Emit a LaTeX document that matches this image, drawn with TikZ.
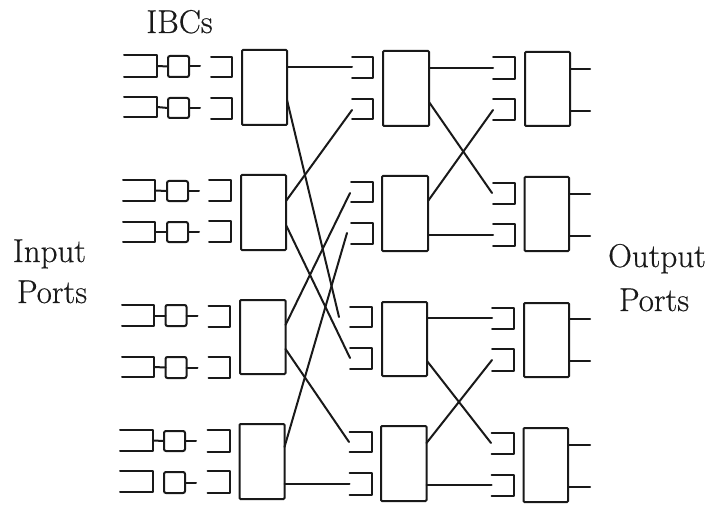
\documentclass[tikz,border=0pt]{standalone}
\usepackage{fontspec}
\setmainfont{Latin Modern Roman}[RawFeature={embolden=0.5}]
\tikzset{
  x=1pt,y=-1pt,
  wire/.style={line width=2pt,line cap=round,line join=round,black!90},
  conn/.style={wire},
  lbl/.style={font=\fontsize{33}{37}\selectfont,inner sep=0pt,text=black!90,anchor=base},
  swbox/.style={draw=black!90,line width=2pt,rounded corners=1pt,inner sep=0pt,outer sep=0pt},
  ibcbox/.style={swbox,rounded corners=2pt},
}
% box node: style, name, x1, x2, y1, y2
\newcommand{\boxnode}[6]{\node[#1,minimum width={#4-#3},minimum height={#6-#5}] (#2) at ({(#3+#4)/2},{(#5+#6)/2}) {};}
% bracket: name, x1, x2, y1, y2
\newcommand{\brk}[5]{\draw[wire] (#2,#4) -- (#3,#4) -- (#3,#5) -- (#2,#5);
  \coordinate (#1) at (#2,{(#4+#5)/2});
  \coordinate (#1r) at (#3,{(#4+#5)/2});}
\begin{document}
\begin{tikzpicture}
\useasboundingbox (0,0) rectangle (714,505);
% labels
\node[lbl] (ibc) at (179.5,33) {IBCs};
\node[lbl] (in1) at (49.5,262) {Input};
\node[lbl] (in2) at (52,303) {Ports};
\node[lbl] (ou1) at (657,267) {Output};
\node[lbl] (ou2) at (654,311) {Ports};
% input brackets
\brk{a1}{124}{157}{55}{77}\brk{a2}{124}{157}{97}{117}
\brk{a3}{123}{155}{180}{201}\brk{a4}{123}{155}{222}{242}
\brk{a5}{122}{154}{305}{326}\brk{a6}{122}{154}{357}{377}
\brk{a7}{120}{153}{430}{451}\brk{a8}{120}{153}{471}{492}
% small IBC boxes
\foreach \n/\xa/\xb/\ya/\yb in {1/168/189/56/77,2/168/189/98/118,3/167/188/181/201,4/167/188/222/242,5/165.5/186.5/305/326,6/165.5/186.5/357/378,7/164/185/431/451,8/164/185/472/493}{
  \boxnode{ibcbox}{c\n}{\xa}{\xb}{\ya}{\yb}
  \coordinate (c\n e) at ([xshift=11pt]c\n.east);
  \draw[conn] (c\n.east) -- (c\n e);
}
\foreach \n in {1,...,7}{\draw[conn] (a\n r) -- (c\n.west);}
% stage-1 brackets
\brk{b1}{211}{232}{57}{77}\brk{b2}{211}{232}{98}{119}
\brk{b3}{209}{231}{180}{201}\brk{b4}{209}{231}{221}{242}
\brk{b5}{208.5}{230}{306}{327}\brk{b6}{208.5}{230}{357}{378}
\brk{b7}{207.5}{229.5}{430}{452}\brk{b8}{207.5}{229.5}{471}{493}
% stage boxes
\boxnode{swbox}{s11}{242}{287}{50}{125}\boxnode{swbox}{s12}{241}{286}{175}{250}
\boxnode{swbox}{s13}{240}{285.5}{300}{374}\boxnode{swbox}{s14}{239.5}{284.5}{424}{499}
\boxnode{swbox}{s21}{383}{429}{51}{126}\boxnode{swbox}{s22}{382}{428}{176}{251}
\boxnode{swbox}{s23}{382}{427}{302}{376}\boxnode{swbox}{s24}{381}{426.5}{426}{501}
\boxnode{swbox}{s31}{525}{570}{52}{126}\boxnode{swbox}{s32}{524.5}{569}{177}{251}
\boxnode{swbox}{s33}{524}{569}{303}{377}\boxnode{swbox}{s34}{523.5}{568}{428}{502}
% stage-2 brackets
\brk{d1}{352}{373}{57}{78}\brk{d2}{352}{373}{99}{119}
\brk{d3}{351}{372.5}{182}{202}\brk{d4}{351}{372.5}{223}{244}
\brk{d5}{350}{372}{307}{327}\brk{d6}{350}{372}{348}{369}
\brk{d7}{349.5}{371.5}{432}{452}\brk{d8}{349.5}{371.5}{473}{495}
% stage-3 brackets
\brk{e1}{493}{515}{57}{79}\brk{e2}{493}{515}{99}{120}
\brk{e3}{493}{514.5}{183}{204}\brk{e4}{493}{514.5}{224}{246}
\brk{e5}{492}{514}{308}{329}\brk{e6}{492}{514}{349}{371}
\brk{e7}{491.5}{514}{433}{454}\brk{e8}{491.5}{514}{475}{496}
% free ends of the wires
\foreach \n/\xx/\yy in {
 p1/287/67,p2/287/100,p3/286/201,p4/286/225,p5/285.5/325,p6/285.5/349,p7/284.5/447,p8/284.5/484,
 q1/352/67,q2/339/317,q3/352/110,q4/350/358,q5/350/193,q6/349/442,q7/347/233,q8/349.5/484,
 r1/429/68,r2/429/102,r3/428/201,r4/428/235,r5/427/318,r6/427/361,r7/426.5/443,r8/426.5/485,
 t1/493/68,t2/492/193,t3/493/110,t4/493/235,t5/492/318,t6/491/443,t7/492/360,t8/491.5/485,
 u1/570/69,u2/570/111,u3/569/194,u4/569/236,u5/569/319,u6/569/361,u7/568/445,u8/568/487,
 v1/590/69,v2/590/111,v3/590/194,v4/590/236,v5/590/319,v6/590/361,v7/590/445,v8/590/487}{
  \coordinate (\n) at (\xx,\yy);
}
\foreach \n in {1,...,8}{
  \draw[conn] (p\n) -- (q\n);
  \draw[conn] (r\n) -- (t\n);
  \draw[conn] (u\n) -- (v\n);
}
\end{tikzpicture}
\end{document}
